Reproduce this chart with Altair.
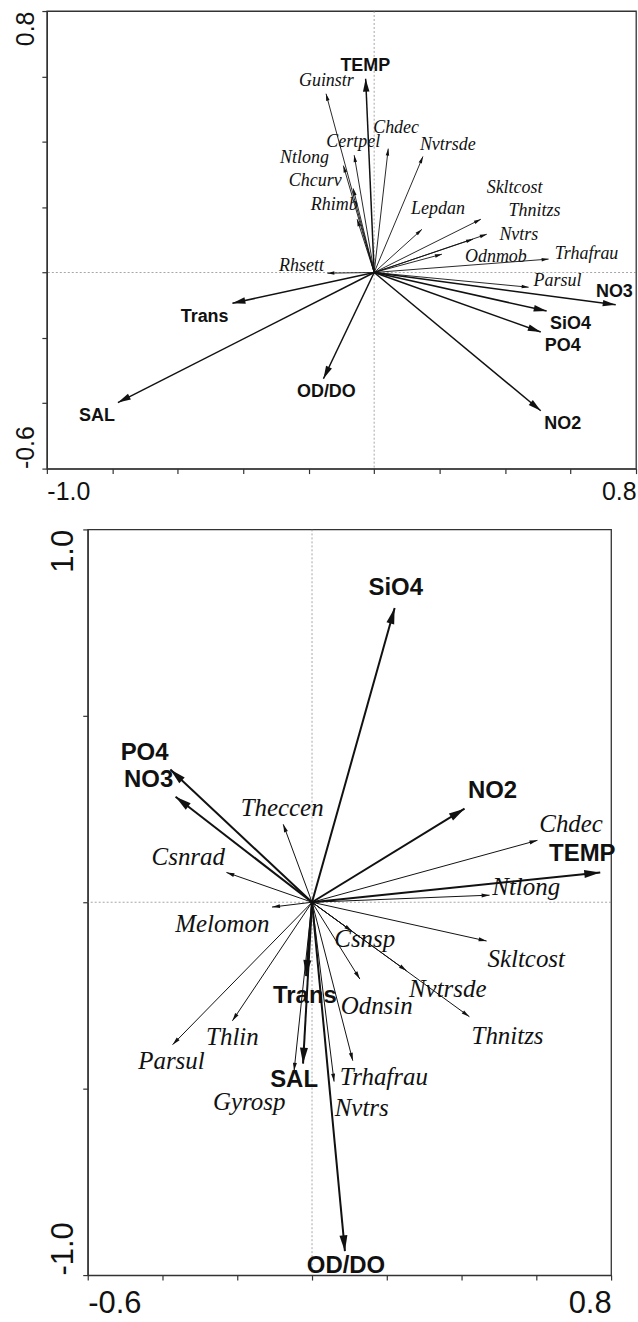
import altair as alt
import pandas as pd

# ---------------- TOP PANEL ----------------
top_env_names = ["TEMP", "NO3", "SiO4", "PO4", "NO2", "OD/DO", "Trans", "SAL"]
top_env_x = [-0.026, 0.738, 0.527, 0.509, 0.509, -0.155, -0.433, -0.783]
top_env_y = [0.593, -0.099, -0.118, -0.182, -0.423, -0.325, -0.094, -0.398]
top_env_lx = [-0.027, 0.734, 0.600, 0.576, 0.576, -0.146, -0.518, -0.847]
top_env_ly = [0.632, -0.060, -0.159, -0.224, -0.464, -0.367, -0.136, -0.438]

top_sp_names = ["Guinstr", "Certpel", "Chdec", "Nvtrsde", "Ntlong", "Chcurv", "Rhimb",
                "Lepdan", "Skltcost", "Thnitzs", "Nvtrs", "Odnmob", "Trhafrau", "Parsul", "Rhsett"]
top_sp_x = [-0.147, -0.061, 0.043, 0.149, -0.094, -0.064, -0.052,
            0.146, 0.326, 0.344, 0.302, 0.207, 0.533, 0.472, -0.143]
top_sp_y = [0.547, 0.359, 0.379, 0.355, 0.327, 0.257, 0.163,
            0.132, 0.163, 0.117, 0.102, 0.056, 0.041, -0.045, -0.002]
top_sp_lx = [-0.146, -0.064, 0.067, 0.225, -0.213, -0.180, -0.122,
             0.195, 0.429, 0.490, 0.442, 0.372, 0.649, 0.560, -0.222]
top_sp_ly = [0.587, 0.398, 0.443, 0.391, 0.349, 0.281, 0.205,
             0.193, 0.257, 0.187, 0.116, 0.047, 0.056, -0.026, 0.020]

top_x_ticks = [-1.0, -0.8, -0.6, -0.4, -0.2, 0.0, 0.2, 0.4, 0.6, 0.8]
top_y_ticks = [-0.6, -0.4, -0.2, 0.0, 0.2, 0.4, 0.6, 0.8]
top_x_end_labels = ["-1.0", "0.8"]
top_y_end_labels = ["-0.6", "0.8"]

# ---------------- BOTTOM PANEL ----------------
bot_env_names = ["SiO4", "NO2", "TEMP", "PO4", "NO3", "Trans", "SAL", "OD/DO"]
bot_env_x = [0.221, 0.408, 0.771, -0.379, -0.365, -0.016, -0.024, 0.088]
bot_env_y = [0.789, 0.251, 0.080, 0.356, 0.283, -0.198, -0.433, -0.936]
bot_env_lx = [0.224, 0.483, 0.723, -0.448, -0.437, -0.019, -0.048, 0.091]
bot_env_ly = [0.842, 0.297, 0.128, 0.401, 0.329, -0.251, -0.476, -0.976]

bot_sp_names = ["Chdec", "Ntlong", "Theccen", "Csnrad", "Melomon", "Skltcost", "Csnsp", "Nvtrsde",
                "Thnitzs", "Odnsin", "Trhafrau", "Nvtrs", "Gyrosp", "Thlin", "Parsul"]
bot_sp_x = [0.603, 0.475, -0.077, -0.229, -0.107, 0.467, 0.107, 0.253,
            0.421, 0.128, 0.109, 0.059, -0.048, -0.213, -0.373]
bot_sp_y = [0.166, 0.019, 0.209, 0.080, -0.013, -0.104, -0.078, -0.184,
            -0.307, -0.206, -0.425, -0.481, -0.452, -0.318, -0.382]
bot_sp_lx = [0.693, 0.573, -0.080, -0.331, -0.240, 0.573, 0.141, 0.363,
             0.523, 0.173, 0.192, 0.133, -0.168, -0.213, -0.376]
bot_sp_ly = [0.209, 0.040, 0.254, 0.120, -0.059, -0.152, -0.099, -0.233,
             -0.358, -0.278, -0.468, -0.553, -0.537, -0.361, -0.425]

bot_x_ticks = [-0.6, -0.4, -0.2, 0.0, 0.2, 0.4, 0.6, 0.8]
bot_y_ticks = [-1.0, -0.5, 0.0, 0.5, 1.0]
bot_x_end_labels = ["-0.6", "0.8"]
bot_y_end_labels = ["-1.0", "1.0"]

ARROW = "M0,-1L0.5,1L-0.5,1Z"
INK = "#111111"
FRAME = "#333333"


def end_label_expr(ticks, labels):
    lo, hi = ticks[0], ticks[-1]
    return (f"datum.value < {lo} + 1e-6 ? '{labels[0]}' : "
            f"(datum.value > {hi} - 1e-6 ? '{labels[1]}' : '')")


def panel(env_df, sp_df, xt, yt, xl, yl, w, h, ppu, tick_font, xpad, ypad,
          env_font, sp_font, env_head, sp_head, env_w, sp_w):
    xs = alt.Scale(domain=[xt[0], xt[-1]], nice=False, zero=False)
    ys = alt.Scale(domain=[yt[0], yt[-1]], nice=False, zero=False)
    xax = alt.Axis(values=xt, labelExpr=end_label_expr(xt, xl), labelFlush=True,
                   labelFont="Liberation Sans", labelFontSize=tick_font, labelColor=INK,
                   labelPadding=xpad, labelBaseline="top", tickSize=5, tickColor=FRAME, tickWidth=1.2,
                   domainColor=FRAME, domainWidth=1.3, grid=False, labelOverlap=False)
    yax = alt.Axis(values=yt, labelExpr=end_label_expr(yt, yl), labelFlush=False,
                   labelAngle=270,
                   labelAlign={"condition": {"test": "datum.value > 0", "value": "right"}, "value": "left"},
                   labelBaseline="alphabetic",
                   labelFont="Liberation Sans", labelFontSize=tick_font, labelColor=INK,
                   labelPadding=ypad, tickSize=5, tickColor=FRAME, tickWidth=1.2,
                   domainColor=FRAME, domainWidth=1.3, grid=False, labelOverlap=False)

    def X(f):
        return alt.X(f, scale=xs, axis=xax, title=None)

    def Y(f):
        return alt.Y(f, scale=ys, axis=yax, title=None)

    zero = pd.DataFrame({"v": [0.0]})
    vline = alt.Chart(zero).mark_rule(color="#808080", strokeWidth=0.7, strokeDash=[2, 2]).encode(x=X("v:Q"))
    hline = alt.Chart(zero).mark_rule(color="#808080", strokeWidth=0.7, strokeDash=[2, 2]).encode(y=Y("v:Q"))

    def arrows(df, sw, head, font, size, style, weight):
        base = alt.Chart(df)
        shafts = base.transform_calculate(o="0").mark_rule(strokeWidth=sw, color=INK).encode(
            x=X("o:Q"), y=Y("o:Q"), x2="x:Q", y2="y:Q")
        d = head / 2.0 / ppu
        heads = base.transform_calculate(
            r="sqrt(datum.x*datum.x + datum.y*datum.y)"
        ).transform_calculate(
            hx=f"datum.x - {d}*datum.x/datum.r",
            hy=f"datum.y - {d}*datum.y/datum.r",
            ang="(atan2(datum.x, datum.y)*180/PI + 360) % 360",
        ).mark_point(shape=ARROW, filled=True, size=head * head, color=INK, opacity=1, strokeWidth=0).encode(
            x=X("hx:Q"), y=Y("hy:Q"), angle=alt.Angle("ang:Q", scale=None))
        labels = base.mark_text(font=font, fontSize=size, fontStyle=style, fontWeight=weight,
                                color=INK, align="center", baseline="middle").encode(
            x=X("lx:Q"), y=Y("ly:Q"), text="name:N")
        return shafts, heads, labels

    s1, s2, s3 = arrows(sp_df, sp_w, sp_head, "Liberation Serif", sp_font, "italic", "normal")
    e1, e2, e3 = arrows(env_df, env_w, env_head, "Liberation Sans", env_font, "normal", "bold")
    return alt.layer(vline, hline, s1, s2, e1, e2, s3, e3).properties(
        width=w, height=h, view=alt.ViewBackground(stroke=FRAME, strokeWidth=1.3))


top_env = pd.DataFrame({"name": top_env_names, "x": top_env_x, "y": top_env_y,
                        "lx": top_env_lx, "ly": top_env_ly})
top_sp = pd.DataFrame({"name": top_sp_names, "x": top_sp_x, "y": top_sp_y,
                       "lx": top_sp_lx, "ly": top_sp_ly})
bot_env = pd.DataFrame({"name": bot_env_names, "x": bot_env_x, "y": bot_env_y,
                        "lx": bot_env_lx, "ly": bot_env_ly})
bot_sp = pd.DataFrame({"name": bot_sp_names, "x": bot_sp_x, "y": bot_sp_y,
                       "lx": bot_sp_lx, "ly": bot_sp_ly})

top = panel(top_env, top_sp, top_x_ticks, top_y_ticks, top_x_end_labels, top_y_end_labels,
            591, 459, 328.0, 25, 6, 8, 18, 18, 13, 7, 1.5, 0.9)
bottom = panel(bot_env, bot_sp, bot_x_ticks, bot_y_ticks, bot_x_end_labels, bot_y_end_labels,
               525, 748, 374.5, 31, 9, 10, 24, 25, 16, 8, 2.0, 1.0)

spacer = alt.Chart(pd.DataFrame({"a": [0]})).mark_point(opacity=0).properties(
    width=1, height=1, view=alt.ViewBackground(stroke="transparent"))

chart = alt.vconcat(top, alt.hconcat(spacer, bottom, spacing=-4), spacing=21).properties(
    padding={"left": 13, "top": 7, "right": 0, "bottom": 0}
).configure_view(stroke="transparent")

chart.save("out.html", embed_options={"renderer": "svg", "actions": False})
